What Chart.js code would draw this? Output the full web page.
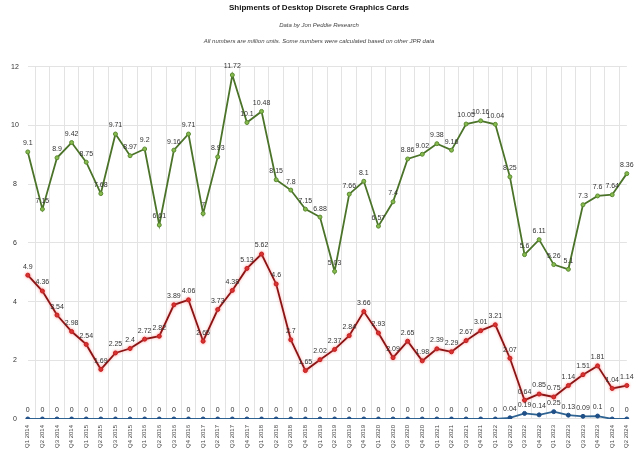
<!DOCTYPE html>
<html>
<head>
<meta charset="utf-8">
<script src="https://cdn.jsdelivr.net/npm/chart.js@4"></script>
<style>
    html, body { margin: 0; padding: 0; background: #ffffff; }
    #wrap { width: 640px; height: 458px; position: relative; }
</style>
</head>
<body>
<div id="wrap"><canvas id="shipChart"></canvas></div>
<script>
// Quarters Q1 2014 .. Q2 2024
const quarters = [
    'Q1 2014', 'Q2 2014', 'Q3 2014', 'Q4 2014',
    'Q1 2015', 'Q2 2015', 'Q3 2015', 'Q4 2015',
    'Q1 2016', 'Q2 2016', 'Q3 2016', 'Q4 2016',
    'Q1 2017', 'Q2 2017', 'Q3 2017', 'Q4 2017',
    'Q1 2018', 'Q2 2018', 'Q3 2018', 'Q4 2018',
    'Q1 2019', 'Q2 2019', 'Q3 2019', 'Q4 2019',
    'Q1 2020', 'Q2 2020', 'Q3 2020', 'Q4 2020',
    'Q1 2021', 'Q2 2021', 'Q3 2021', 'Q4 2021',
    'Q1 2022', 'Q2 2022', 'Q3 2022', 'Q4 2022',
    'Q1 2023', 'Q2 2023', 'Q3 2023', 'Q4 2023',
    'Q1 2024', 'Q2 2024'
];

// million units
const nvidiaUnits = [
    9.1, 7.15, 8.9, 9.42, 8.75, 7.68, 9.71, 8.97, 9.2, 6.61, 9.16, 9.71,
    7, 8.93, 11.72, 10.1, 10.48, 8.15, 7.8, 7.15, 6.88, 5.03, 7.66, 8.1,
    6.57, 7.4, 8.86, 9.02, 9.38, 9.16, 10.05, 10.16, 10.04, 8.25, 5.6, 6.11,
    5.26, 5.1, 7.3, 7.6, 7.64, 8.36
];
const amdUnits = [
    4.9, 4.36, 3.54, 2.98, 2.54, 1.69, 2.25, 2.4, 2.72, 2.82, 3.89, 4.06,
    2.65, 3.73, 4.38, 5.13, 5.62, 4.6, 2.7, 1.65, 2.02, 2.37, 2.84, 3.66,
    2.93, 2.09, 2.65, 1.98, 2.39, 2.29, 2.67, 3.01, 3.21, 2.07, 0.64, 0.85,
    0.75, 1.14, 1.51, 1.81, 1.04, 1.14
];
const intelUnits = [
    0, 0, 0, 0, 0, 0, 0, 0, 0, 0, 0, 0,
    0, 0, 0, 0, 0, 0, 0, 0, 0, 0, 0, 0,
    0, 0, 0, 0, 0, 0, 0, 0, 0, 0.04, 0.19, 0.14,
    0.25, 0.13, 0.09, 0.1, 0, 0
];

const yTicks = [0, 2, 4, 6, 8, 10, 12];

// value labels drawn above each point
const valueLabels = {
    id: 'valueLabels',
    afterDatasetsDraw(chart) {
        const ctx = chart.ctx;
        ctx.save();
        ctx.font = '7px "Liberation Sans", Arial, sans-serif';
        ctx.fillStyle = '#333333';
        ctx.textAlign = 'center';
        ctx.textBaseline = 'bottom';
        chart.data.datasets.forEach((ds, i) => {
            const meta = chart.getDatasetMeta(i);
            meta.data.forEach((pt, j) => {
                ctx.fillText(String(ds.data[j]), pt.x, pt.y - 5);
            });
        });
        ctx.restore();
    }
};

// light pink glow round the red line
const redGlow = {
    id: 'redGlow',
    beforeDatasetDraw(chart, args) {
        if (args.index === 1) {
            chart.ctx.save();
            chart.ctx.shadowColor = 'rgba(255, 110, 110, 0.6)';
            chart.ctx.shadowBlur = 3;
        }
    },
    afterDatasetDraw(chart, args) {
        if (args.index === 1) chart.ctx.restore();
    }
};

const ctx = document.getElementById('shipChart').getContext('2d');
new Chart(ctx, {
    type: 'line',
    data: {
        labels: quarters,
        datasets: [{
            label: 'Nvidia',
            data: nvidiaUnits,
            borderColor: '#4b7329',
            backgroundColor: '#86bb4e',
            pointBorderColor: '#5c8a33',
            borderWidth: 1.8,
            pointRadius: 2,
            pointBorderWidth: 1,
            tension: 0
        }, {
            label: 'AMD',
            data: amdUnits,
            borderColor: '#8a1414',
            backgroundColor: '#cf2626',
            pointBorderColor: '#c21f1f',
            borderWidth: 1.8,
            pointRadius: 2,
            pointBorderWidth: 1,
            tension: 0
        }, {
            label: 'Intel',
            data: intelUnits,
            borderColor: '#2f6391',
            backgroundColor: '#1f4f86',
            pointBorderColor: '#1f4f86',
            borderWidth: 1.8,
            pointRadius: 2,
            pointBorderWidth: 1,
            tension: 0
        }]
    },
    options: {
        responsive: true,
        maintainAspectRatio: false,
        animation: false,
        layout: {
            padding: { left: 2, right: 4, bottom: 4, top: 0 }
        },
        plugins: {
            legend: { display: false },
            tooltip: { enabled: false },
            title: {
                display: true,
                text: 'Shipments of Desktop Discrete Graphics Cards',
                color: '#111111',
                font: { family: '"Liberation Sans", Arial, sans-serif', size: 8, weight: 'bold' },
                padding: { top: 3, bottom: 5 }
            },
            subtitle: {
                display: true,
                text: ['Data by Jon Peddie Research',
                       'All numbers are million units. Some numbers were calculated based on other JPR data'],
                color: '#444444',
                font: { family: '"Liberation Sans", Arial, sans-serif', size: 6, style: 'italic', lineHeight: 2.6 },
                padding: { top: 0, bottom: 18 }
            }
        },
        scales: {
            y: {
                min: 0,
                max: 12,
                afterBuildTicks: axis => { axis.ticks = yTicks.map(v => ({ value: v })); },
                grid: { color: '#e3e3e3', drawTicks: false },
                border: { display: false },
                ticks: {
                    color: '#333333',
                    padding: 9,
                    crossAlign: 'center',
                    font: { family: '"Liberation Sans", Arial, sans-serif', size: 7 }
                }
            },
            x: {
                grid: { color: '#e3e3e3', offset: true, drawTicks: false },
                border: { display: false },
                ticks: {
                    color: '#444444',
                    minRotation: 90,
                    maxRotation: 90,
                    autoSkip: false,
                    padding: 6,
                    font: { family: '"Liberation Sans", Arial, sans-serif', size: 6 }
                }
            }
        }
    },
    plugins: [redGlow, valueLabels]
});
</script>
</body>
</html>
